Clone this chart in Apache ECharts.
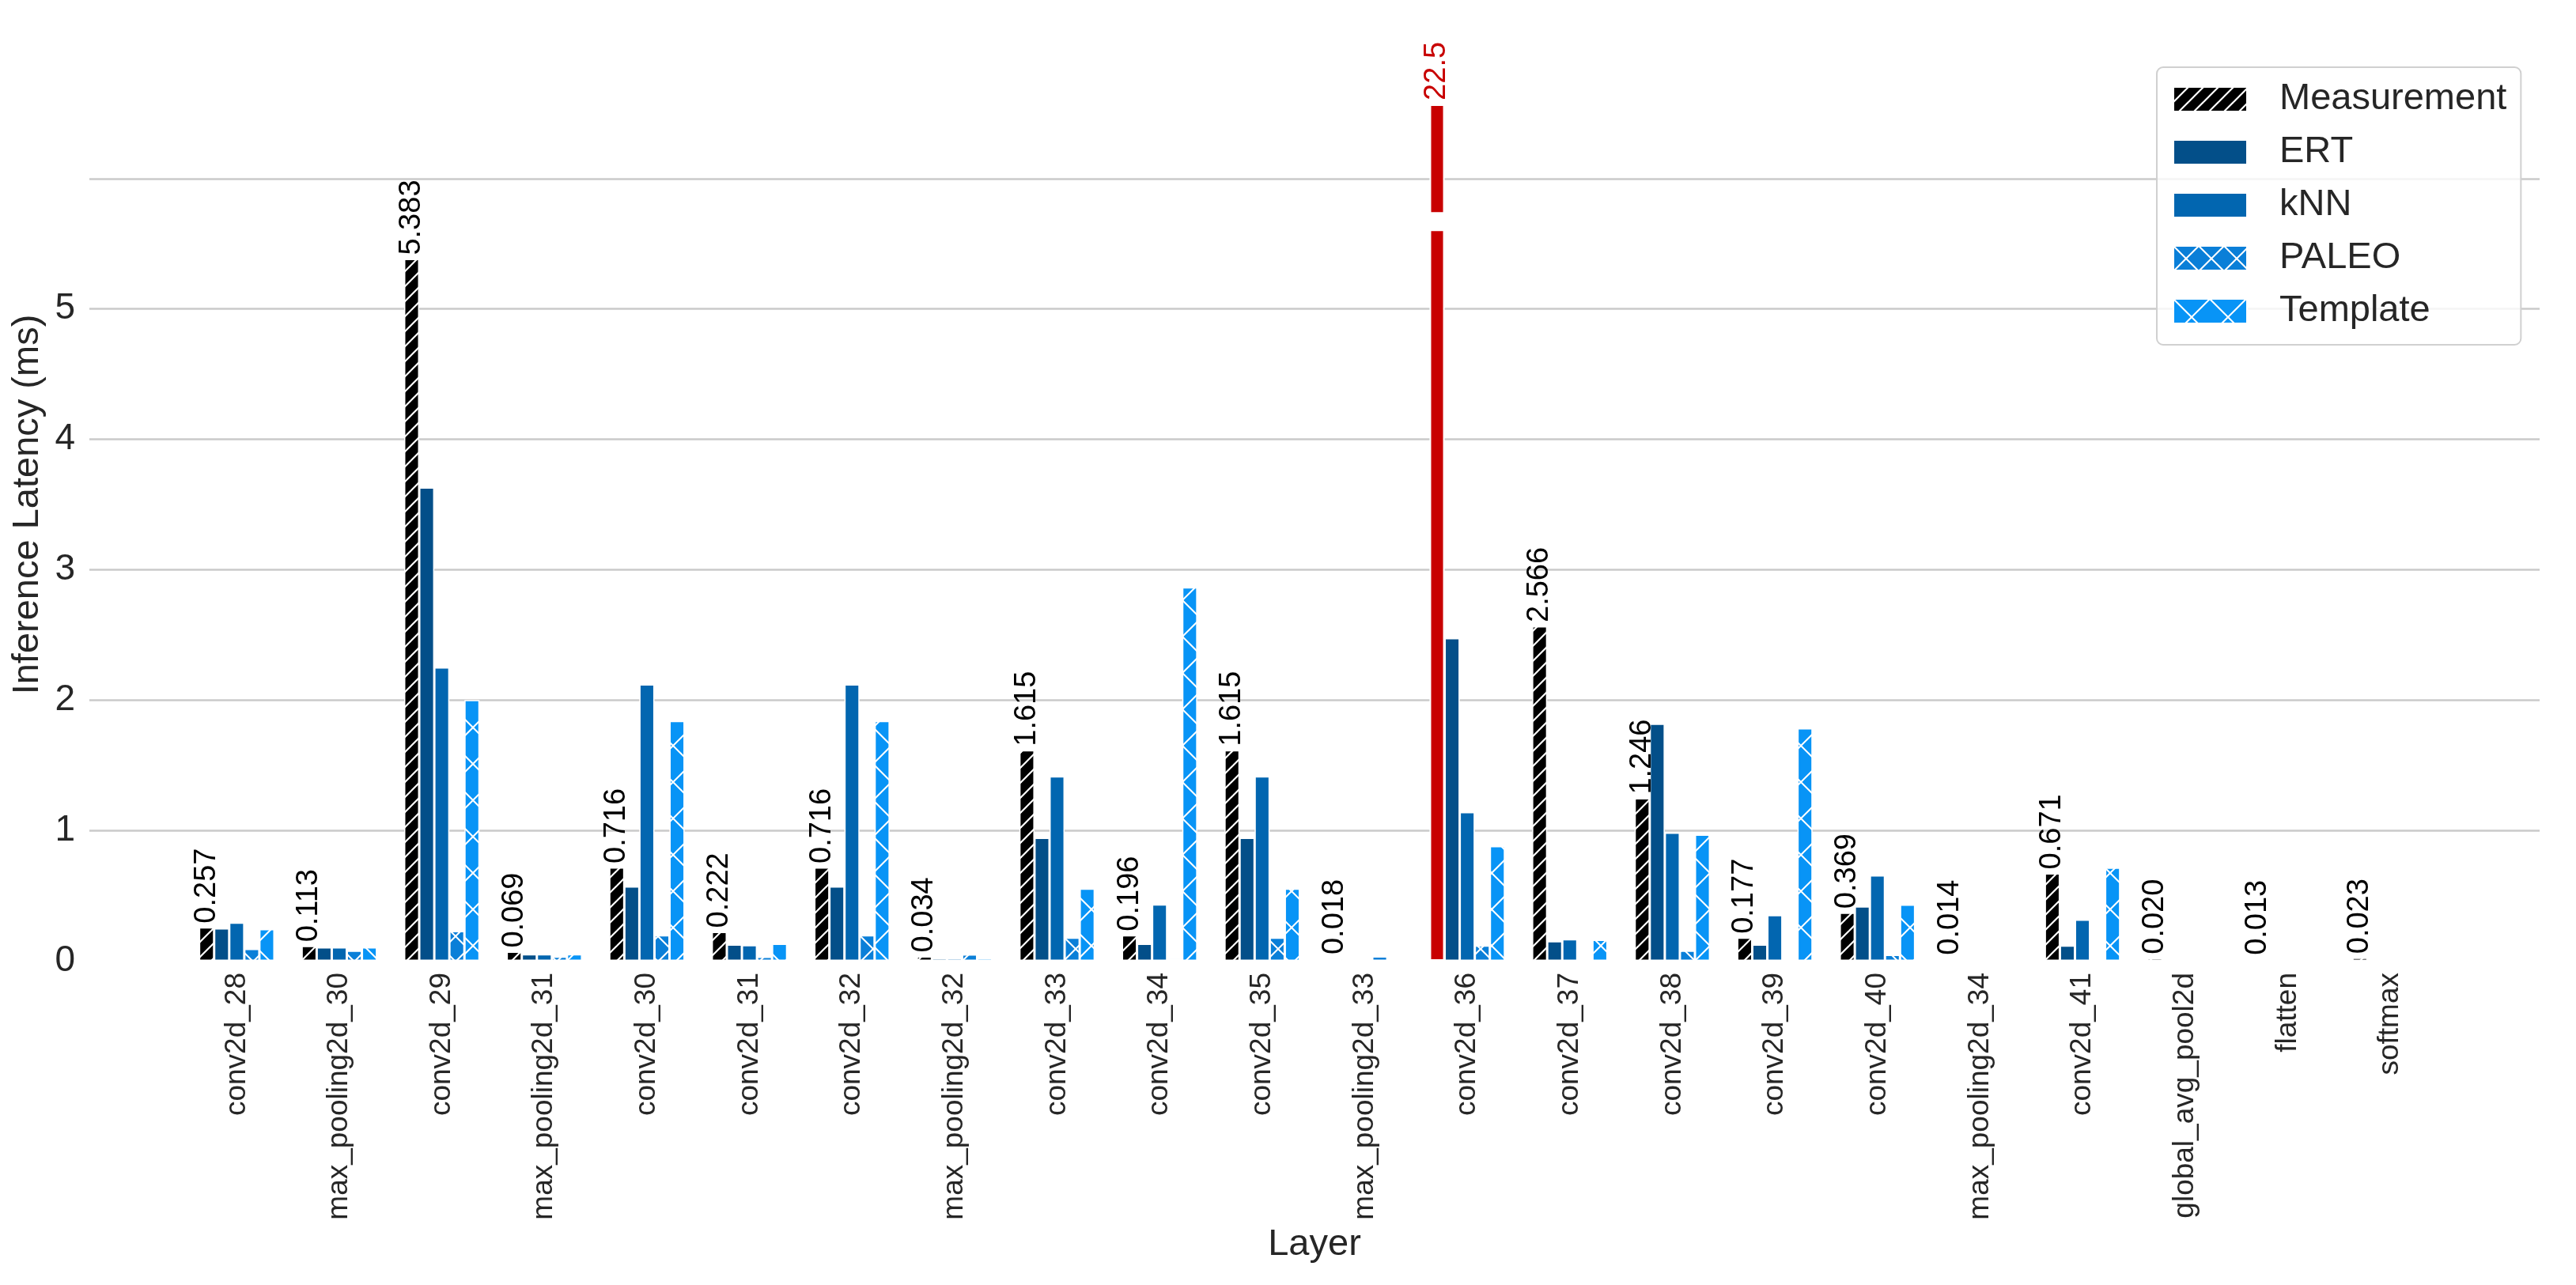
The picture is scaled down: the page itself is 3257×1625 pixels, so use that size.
<!DOCTYPE html>
<html><head><meta charset="utf-8">
<script src="https://cdn.jsdelivr.net/npm/echarts@6/dist/echarts.min.js"></script>
<style>html,body{margin:0;padding:0;background:#fff}#c{width:3257px;height:1625px}</style>
</head><body><div id="c"></div>
<script>
// ---------------- data ----------------
const categories = ['conv2d_28','max_pooling2d_30','conv2d_29','max_pooling2d_31','conv2d_30','conv2d_31','conv2d_32','max_pooling2d_32','conv2d_33','conv2d_34','conv2d_35','max_pooling2d_33','conv2d_36','conv2d_37','conv2d_38','conv2d_39','conv2d_40','max_pooling2d_34','conv2d_41','global_avg_pool2d','flatten','softmax'];
const measurement = [0.257,0.113,5.383,0.069,0.716,0.222,0.716,0.034,1.615,0.196,1.615,0.018,22.5,2.566,1.246,0.177,0.369,0.014,0.671,0.020,0.013,0.023];
const ert      = [0.249,0.103,3.63,0.050,0.57,0.125,0.57,0.020,0.943,0.13,0.943,0.008,2.475,0.150,1.818,0.125,0.417,0.006,0.117,0,0,0];
const knn      = [0.293,0.103,2.25,0.050,2.12,0.120,2.12,0.020,1.415,0.432,1.415,0.008,1.140,0.166,0.982,0.350,0.655,0.006,0.315,0,0,0];
const paleo    = [0.091,0.077,0.228,0.032,0.195,0.030,0.195,0.049,0.177,0.017,0.177,0.034,0.117,0.008,0.078,0,0.045,0.002,0,0,0,0];
const template = [0.243,0.103,2.00,0.050,1.84,0.130,1.84,0.020,0.553,2.864,0.553,0.008,0.879,0.160,0.967,1.783,0.430,0.006,0.715,0,0,0];
const yTickLabels = [0,1,2,3,4,5];

// ---------------- style ----------------
const FONT = "'Liberation Sans', Arial, Helvetica, sans-serif";
const TXT = '#262626';
const RED = '#c80000';
const Y_MAX = 7;
const BREAK_LO = 5.61, BREAK_HI = 5.73, BROKEN_TOP = 6.57;

function hatch(bg, T, lw, kinds) {
  const c = document.createElement('canvas');
  c.width = T; c.height = T;
  const g = c.getContext('2d');
  g.fillStyle = bg; g.fillRect(0, 0, T, T);
  g.strokeStyle = '#ffffff'; g.lineWidth = lw;
  for (const k of kinds) {
    for (let i = -1; i <= 2; i++) {
      const cc = i * T;
      g.beginPath();
      if (k === '/') { g.moveTo(cc + T, -T); g.lineTo(cc - 2 * T, 2 * T); }
      else { g.moveTo(cc - T, -T); g.lineTo(cc + 2 * T, 2 * T); }
      g.stroke();
    }
  }
  return { image: c, repeat: 'repeat' };
}
const measFill = hatch('#000000', 19, 2.2, ['/']);
const paleoFill = hatch('#0a7fd8', 32, 2, ['/', '\\']);
const tmplFill = hatch('#0894f6', 46, 2, ['/', '\\']);

const baseBar = {
  type: 'bar', xAxisIndex: 1, yAxisIndex: 1,
  barGap: '0%', barCategoryGap: '26.5%'
};
const border = { borderColor: '#ffffff', borderWidth: 1.5 };

const lowData = measurement.map(v => v > Y_MAX
  ? { value: BREAK_LO, itemStyle: { color: RED, borderWidth: 2 }, label: { show: false } }
  : v);
const gapData = measurement.map(v => v > Y_MAX ? BREAK_HI - BREAK_LO : null);
const topData = measurement.map(v => v > Y_MAX ? BROKEN_TOP - BREAK_HI : null);

const valLabel = {
  show: true, position: 'top', rotate: 90, align: 'left', verticalAlign: 'middle',
  distance: 5, fontSize: 38, fontFamily: FONT, color: '#000000'
};

const option = {
  animation: false,
  backgroundColor: '#ffffff',
  grid: [
    { left: 113, right: 46, top: 61, bottom: 410 },
    { left: 234.5, right: 170.2, top: 61, bottom: 410 }
  ],
  xAxis: [
    { gridIndex: 0, type: 'value', min: 0, max: 1,
      axisLine: { show: false }, axisTick: { show: false }, axisLabel: { show: false }, splitLine: { show: false },
      name: 'Layer', nameLocation: 'middle', nameGap: 336,
      nameTextStyle: { fontSize: 47, color: TXT, fontFamily: FONT } },
    { gridIndex: 1, type: 'category', data: categories,
      axisLine: { show: false }, axisTick: { show: false }, splitLine: { show: false },
      axisLabel: { rotate: 90, interval: 0, fontSize: 37, color: TXT, fontFamily: FONT, margin: 15 } }
  ],
  yAxis: [
    { gridIndex: 0, type: 'value', min: 0, max: Y_MAX, interval: 1,
      axisLine: { show: false }, axisTick: { show: false },
      axisLabel: { fontSize: 46, color: TXT, fontFamily: FONT, margin: 18,
        formatter: v => yTickLabels.includes(v) ? String(v) : '' },
      splitLine: { show: true, showMinLine: false, showMaxLine: false, lineStyle: { color: '#cacaca', width: 2.5 } },
      name: 'Inference Latency (ms)', nameLocation: 'middle', nameGap: 40,
      nameTextStyle: { fontSize: 47, color: TXT, fontFamily: FONT } },
    { gridIndex: 1, type: 'value', min: 0, max: Y_MAX, show: false, splitLine: { show: false } }
  ],
  legend: {
    orient: 'vertical', left: 2727, top: 85,
    itemWidth: 93, itemHeight: 31, itemGap: 20,
    padding: [17, 18, 19, 20],
    backgroundColor: 'rgba(255,255,255,0.8)', borderColor: '#d0d0d0', borderWidth: 2, borderRadius: 8,
    selectedMode: false, icon: 'rect',
    data: ['Measurement', 'ERT', 'kNN', 'PALEO', 'Template'],
    formatter: n => '{s|}{t|' + n + '}',
    textStyle: { fontSize: 47, color: TXT, fontFamily: FONT, lineHeight: 31,
      rich: { s: { width: 36, lineHeight: 31, fontSize: 47 },
              t: { fontSize: 47, lineHeight: 31, color: TXT, fontFamily: FONT } } }
  },
  series: [
    Object.assign({}, baseBar, { name: 'Measurement', stack: 'meas', data: lowData,
      itemStyle: Object.assign({ color: measFill }, border),
      label: Object.assign({}, valLabel, { formatter: p => measurement[p.dataIndex].toFixed(3) }) }),
    Object.assign({}, baseBar, { name: '_gap', stack: 'meas', data: gapData,
      itemStyle: { color: 'rgba(0,0,0,0)', borderWidth: 0 } }),
    Object.assign({}, baseBar, { name: '_top', stack: 'meas', data: topData,
      itemStyle: { color: RED, borderColor: '#ffffff', borderWidth: 2 },
      label: Object.assign({}, valLabel, { color: RED, formatter: p => String(measurement[p.dataIndex]) }) }),
    Object.assign({}, baseBar, { name: 'ERT', data: ert, itemStyle: Object.assign({ color: '#034f89' }, border) }),
    Object.assign({}, baseBar, { name: 'kNN', data: knn, itemStyle: Object.assign({ color: '#0266b0' }, border) }),
    Object.assign({}, baseBar, { name: 'PALEO', data: paleo, itemStyle: Object.assign({ color: paleoFill }, border) }),
    Object.assign({}, baseBar, { name: 'Template', data: template, itemStyle: Object.assign({ color: tmplFill }, border) })
  ]
};
const chart = echarts.init(document.getElementById('c'), null, { renderer: 'canvas' });
chart.setOption(option);
</script></body></html>
